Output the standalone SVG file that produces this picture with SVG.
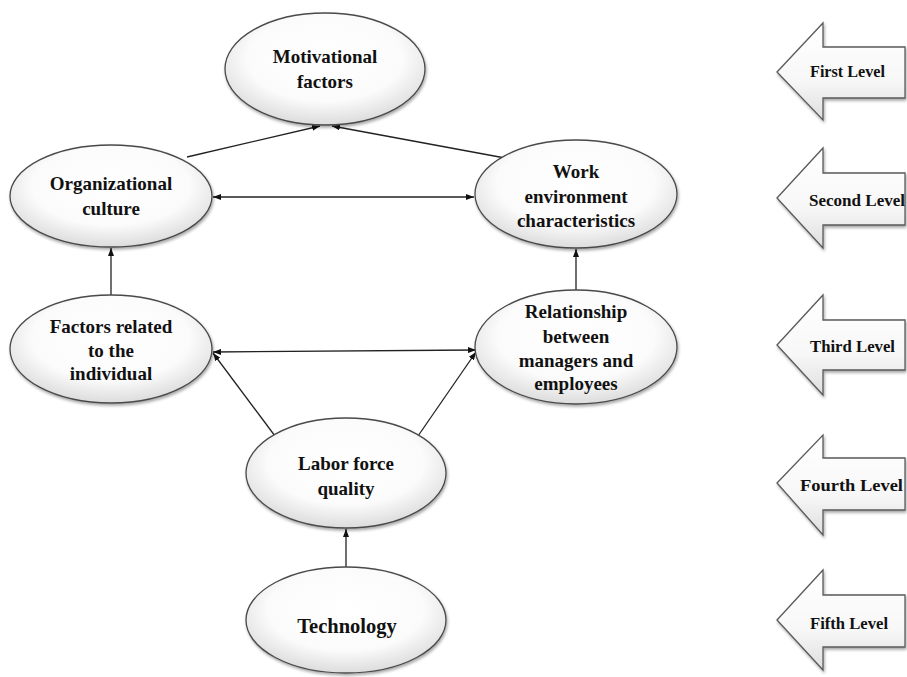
<svg xmlns="http://www.w3.org/2000/svg" width="907" height="677" viewBox="0 0 907 677">
<defs>
<radialGradient id="eg" cx="50%" cy="40%" r="60%">
<stop offset="0" stop-color="#ffffff"/>
<stop offset="0.65" stop-color="#fbfbfb"/>
<stop offset="1" stop-color="#dcdcdc"/>
</radialGradient>
<linearGradient id="ag" x1="0" y1="0" x2="0" y2="1">
<stop offset="0" stop-color="#ffffff"/>
<stop offset="0.6" stop-color="#f7f7f7"/>
<stop offset="1" stop-color="#dedede"/>
</linearGradient>
<filter id="sh" x="-10%" y="-10%" width="125%" height="130%">
<feDropShadow dx="1" dy="2" stdDeviation="1.5" flood-color="#000" flood-opacity="0.35"/>
</filter>
<marker id="ah" viewBox="0 0 8 6" refX="8" refY="3" markerWidth="8" markerHeight="6" markerUnits="userSpaceOnUse" orient="auto-start-reverse">
<path d="M0,0 L8,3 L0,6 z" fill="#111"/>
</marker>
<style>
.node ellipse{fill:url(#eg);stroke:#4a4a4a;stroke-width:1.3;filter:url(#sh)}
.node text{font-weight:bold;font-size:19px;fill:#111;text-anchor:middle}
.node text.big{font-size:20.5px}
.lvl path{fill:url(#ag);stroke:#5a5a5a;stroke-width:1.3;filter:url(#sh)}
.lvl text{font-weight:bold;font-size:16px;fill:#111}
#connectors line{stroke:#222;stroke-width:1.3;fill:none}
</style>
</defs>
<rect width="907" height="677" fill="#fff"/>

<g id="connectors">
<line x1="187" y1="157" x2="320" y2="126" marker-end="url(#ah)"/>
<line x1="505" y1="158" x2="332" y2="126" marker-end="url(#ah)"/>
<line x1="213" y1="197" x2="474" y2="197" marker-start="url(#ah)" marker-end="url(#ah)"/>
<line x1="111" y1="295" x2="111" y2="248" marker-end="url(#ah)"/>
<line x1="576" y1="290" x2="576" y2="249" marker-end="url(#ah)"/>
<line x1="213" y1="352" x2="476" y2="350" marker-start="url(#ah)" marker-end="url(#ah)"/>
<line x1="275" y1="436" x2="213" y2="353" marker-end="url(#ah)"/>
<line x1="418" y1="436" x2="476" y2="352" marker-end="url(#ah)"/>
<line x1="346" y1="567" x2="346" y2="529" marker-end="url(#ah)"/>
</g>

<g font-family="Liberation Serif, Times New Roman, serif">
<g id="motivational" class="node">
<ellipse cx="325" cy="69" rx="100" ry="56"/>
<text x="325" y="63">Motivational</text>
<text x="325" y="88">factors</text>
</g>
<g id="organizational" class="node">
<ellipse cx="111" cy="196" rx="101" ry="51"/>
<text x="111" y="190">Organizational</text>
<text x="111" y="215">culture</text>
</g>
<g id="workenv" class="node">
<ellipse cx="576" cy="194" rx="101" ry="54"/>
<text x="576" y="178">Work</text>
<text x="576" y="203">environment</text>
<text x="576" y="227">characteristics</text>
</g>
<g id="individual" class="node">
<ellipse cx="111" cy="349" rx="101" ry="54"/>
<text x="111" y="333">Factors related</text>
<text x="111" y="357">to the</text>
<text x="111" y="380">individual</text>
</g>
<g id="relationship" class="node">
<ellipse cx="576" cy="347" rx="101" ry="57"/>
<text x="576" y="318">Relationship</text>
<text x="576" y="343">between</text>
<text x="576" y="367">managers and</text>
<text x="576" y="390">employees</text>
</g>
<g id="labor" class="node">
<ellipse cx="346" cy="473" rx="100" ry="55"/>
<text x="346" y="470">Labor force</text>
<text x="346" y="495">quality</text>
</g>
<g id="technology" class="node">
<ellipse cx="346" cy="620" rx="100" ry="53"/>
<text class="big" x="347" y="633">Technology</text>
</g>

<g id="level1" class="lvl">
<path d="M777,72 L823,23 L823,47 L905,47 L905,98 L823,98 L823,120 Z"/>
<text x="810" y="77" textLength="75" lengthAdjust="spacingAndGlyphs">First Level</text>
</g>
<g id="level2" class="lvl">
<path d="M777,198 L823,148 L823,173 L905,173 L905,225 L823,225 L823,248 Z"/>
<text x="809" y="206" textLength="96" lengthAdjust="spacingAndGlyphs">Second Level</text>
</g>
<g id="level3" class="lvl">
<path d="M777,345 L823,295 L823,320 L905,320 L905,370 L823,370 L823,395 Z"/>
<text x="810" y="352" textLength="85" lengthAdjust="spacingAndGlyphs">Third Level</text>
</g>
<g id="level4" class="lvl">
<path d="M777,483 L823,435 L823,458 L905,458 L905,510 L823,510 L823,535 Z"/>
<text x="800" y="491" textLength="103" lengthAdjust="spacingAndGlyphs">Fourth Level</text>
</g>
<g id="level5" class="lvl">
<path d="M777,620 L823,570 L823,595 L905,595 L905,647 L823,647 L823,670 Z"/>
<text x="810" y="629" textLength="78" lengthAdjust="spacingAndGlyphs">Fifth Level</text>
</g>
</g>
</svg>
